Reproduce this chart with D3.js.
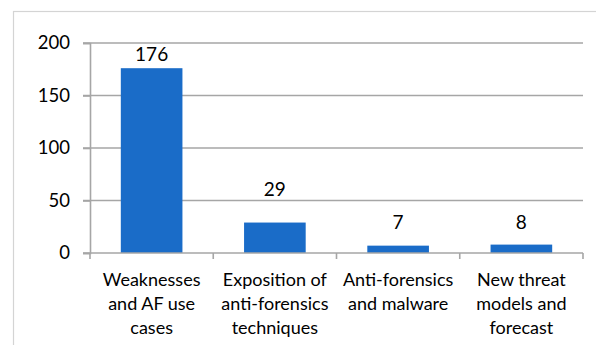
<!DOCTYPE html>
<html>
<head>
<meta charset="utf-8">
<script src="https://cdn.jsdelivr.net/npm/d3@7"></script>
<style>
  html, body { margin: 0; padding: 0; background: #fff; }
  svg { display: block; }
  text { font-family: Lato, "Open Sans", sans-serif; fill: #000; }
</style>
</head>
<body>
<svg id="chart" width="596" height="345"></svg>
<script>
// Publications per category
const categories = [
  "Weaknesses\nand AF use\ncases",
  "Exposition of\nanti-forensics\ntechniques",
  "Anti-forensics\nand malware",
  "New threat\nmodels and\nforecast"
];
const counts = [176, 29, 7, 8];
const yTicks = [0, 50, 100, 150, 200];

const W = 596, H = 345;
const plot = { left: 90, right: 583, top: 43, bottom: 253 };

const svg = d3.select("#chart");

// outer chart frame
svg.append("rect")
  .attr("x", 13.5).attr("y", 11.5)
  .attr("width", W + 10).attr("height", H + 10)
  .attr("fill", "none").attr("stroke", "#d4d4d4").attr("stroke-width", 1.2);

const x = d3.scaleBand()
  .domain(d3.range(categories.length))
  .range([plot.left, plot.right])
  .paddingInner(0.5).paddingOuter(0.25);

const xBand = d3.scaleBand()
  .domain(d3.range(categories.length))
  .range([plot.left, plot.right]);

const y = d3.scaleLinear().domain([0, 200]).range([plot.bottom, plot.top]);

// horizontal gridlines
svg.append("g").selectAll("line").data(yTicks.filter(t => t > 0)).join("line")
  .attr("x1", plot.left - 7).attr("x2", plot.right)
  .attr("y1", d => y(d)).attr("y2", d => y(d))
  .attr("stroke", "#a6a6a6").attr("stroke-width", 1.6);

// y axis
const yAxis = d3.axisLeft(y).tickValues(yTicks).tickSize(7).tickPadding(13);
const gy = svg.append("g").attr("transform", `translate(${plot.left},0)`).call(yAxis);
gy.select(".domain").attr("stroke", "#a6a6a6").attr("stroke-width", 1.6);
gy.selectAll(".tick line").attr("stroke", "#a6a6a6").attr("stroke-width", 1.6);
gy.selectAll(".tick text").style("font-size", "18.5px").attr("fill", "#000")
  .style("font-family", "Lato, 'Open Sans', sans-serif");

// bars
svg.append("g").selectAll("rect").data(counts).join("rect")
  .attr("x", (d, i) => x(i))
  .attr("width", x.bandwidth())
  .attr("y", d => y(d))
  .attr("height", d => y(0) - y(d))
  .attr("fill", "#1a6cc8");

// x axis line with boundary ticks
const bounds = d3.range(categories.length + 1).map(i =>
  i < categories.length ? xBand(i) : plot.right);
svg.append("line")
  .attr("x1", plot.left - 7).attr("x2", plot.right)
  .attr("y1", y(0)).attr("y2", y(0))
  .attr("stroke", "#a6a6a6").attr("stroke-width", 1.6);
svg.append("g").selectAll("line").data(bounds).join("line")
  .attr("x1", d => d).attr("x2", d => d)
  .attr("y1", y(0)).attr("y2", y(0) + 6)
  .attr("stroke", "#a6a6a6").attr("stroke-width", 1.6);

// value labels above the bars
const labelLift = [7, 27, 17, 16];
svg.append("g").selectAll("text").data(counts).join("text")
  .attr("x", (d, i) => x(i) + x.bandwidth() / 2)
  .attr("y", (d, i) => y(d) - labelLift[i])
  .attr("text-anchor", "middle")
  .style("font-size", "19px")
  .text(d => d);

// category labels
const catG = svg.append("g").selectAll("text").data(categories).join("text")
  .attr("x", (d, i) => xBand(i) + xBand.bandwidth() / 2)
  .attr("y", 286)
  .attr("text-anchor", "middle")
  .style("font-size", "18px");
catG.selectAll("tspan").data(d => d.split("\n")).join("tspan")
  .attr("x", function () { return this.parentNode.getAttribute("x"); })
  .attr("dy", (d, i) => i === 0 ? 0 : 24)
  .text(d => d);
</script>
</body>
</html>
